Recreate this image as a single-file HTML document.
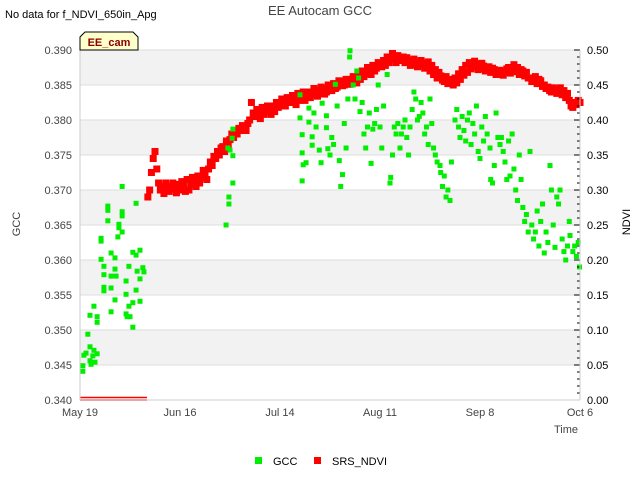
<!DOCTYPE html>
<html><head><meta charset="utf-8"><style>
body{margin:0;background:#fff;}
svg{display:block;font-family:"Liberation Sans","DejaVu Sans",sans-serif;}
</style></head><body>
<svg id="chart" width="640" height="480" viewBox="0 0 640 480">
<text x="5" y="18" font-size="11" fill="#000">No data for f_NDVI_650in_Apg</text>
<text x="320" y="15" font-size="13" fill="#444" text-anchor="middle">EE Autocam GCC</text>
<g id="bands"></g>
<g id="grid"></g>
<g id="marks"></g>
<g id="axes"></g>
<g>
<path d="M80,50 L80,37 L85,32 L133,32 L138,37 L138,50 Z" fill="#ffffcc" stroke="#000" stroke-width="1"/>
<text x="109" y="46" font-size="11" font-weight="bold" fill="#8b0000" text-anchor="middle">EE_cam</text>
</g>
<text transform="translate(20,224) rotate(-90)" font-size="11" fill="#444" text-anchor="middle">GCC</text>
<text transform="translate(630,222) rotate(-90)" font-size="11" fill="#000" text-anchor="middle">NDVI</text>
<text x="578" y="433" font-size="11" fill="#444" text-anchor="end">Time</text>
<g>
<rect x="255" y="457" width="7" height="7" fill="#00ee00"/>
<text x="273" y="465" font-size="11" fill="#000">GCC</text>
<rect x="314" y="457" width="7" height="7" fill="#ff0000"/>
<text x="332" y="465" font-size="11" fill="#000">SRS_NDVI</text>
</g>
</svg>
<script>
const gccTicks=[0.340,0.345,0.350,0.355,0.360,0.365,0.370,0.375,0.380,0.385,0.390];
const ndviTicks=[0.00,0.05,0.10,0.15,0.20,0.25,0.30,0.35,0.40,0.45,0.50];
const xTickLabels=["May 19","Jun 16","Jul 14","Aug 11","Sep 8","Oct 6"];
const xTickDays=[0,28,56,84,112,140];
const gccDays=[0.8,0.8,1.1,1.7,2.2,2.8,2.8,3.1,3.6,3.9,4.2,3.9,2.8,4.8,4.8,4.8,5.9,5.9,5.9,6.7,6.7,6.7,6.7,7.8,7.8,7.8,8.7,8.7,8.7,8.7,9.8,9.8,10.1,9.8,10.6,10.9,10.9,11.8,11.8,11.8,12.9,12.9,12.9,13.2,13.7,13.7,14,14.8,14.8,14.8,15.7,15.7,16,16.8,16.8,16.8,17.6,17.9,15.7,11.8,
40.9,41.7,41.7,42.8,42.8,42,42.6,42.8,41.4,
61.6,61.6,62.2,62.2,62.5,62.2,63.3,64.1,64.1,65,65,65.5,66.1,67,67.5,67.8,69,69,69.4,70,70.5,71,71.5,72,72.6,73,73.5,74,74.5,75,75.5,75.6,76.5,77,77.5,78,78.4,79,79.5,80,80.5,81,81.5,82,82.5,83,83.5,84,84.5,85,86,86.8,87,87.5,88,88.5,89,89.6,90,90.5,91,91.5,92,92.4,93,93.5,94,94.5,95,95.5,96,96.5,97,97.5,98,98.5,99,99.5,100,100.8,101,101.5,102,102.5,103,103.6,104,105,105.5,106,106.4,107,107.5,108,108.5,109,109.5,110,110.5,111,111.5,112,112.5,113,113.5,114,114.8,115,115.5,116,116.5,117,117.6,118,118.5,119,119.5,120,120.4,121,121.5,122,122.5,123,123.5,124,124.5,125,125.5,126,126.5,127,127.5,128,128.5,129,129.5,130,130.5,131,131.6,132,132.5,133,133.5,134,134.4,135,135.5,136,136.5,137,137.2,138,138.5,139,139.5,140];
const gccVals=[0.3441,0.3449,0.3464,0.3467,0.3494,0.3476,0.3456,0.3451,0.3463,0.3471,0.3454,0.3534,0.3521,0.3519,0.3511,0.3466,0.3601,0.3627,0.3631,0.3591,0.3579,0.3561,0.3556,0.3656,0.3677,0.3671,0.3610,0.3577,0.3560,0.3526,0.3603,0.3587,0.3577,0.3543,0.3633,0.3651,0.3646,0.3669,0.3663,0.3640,0.3570,0.3551,0.3523,0.3519,0.3591,0.3534,0.3519,0.3611,0.3539,0.3504,0.3607,0.3557,0.3584,0.3614,0.3573,0.3541,0.3589,0.3583,0.3681,0.3705,
0.3650,0.3690,0.3680,0.3710,0.3749,0.3757,0.3774,0.3787,0.3760,
0.3836,0.3803,0.3779,0.3753,0.3736,0.3713,0.3739,0.3817,0.3797,0.3776,0.3764,0.3810,0.3790,0.3757,0.3739,0.3824,0.3806,0.3789,0.3759,0.3750,0.3775,0.3765,0.3851,0.3820,0.3742,0.3705,0.3722,0.3795,0.3760,0.3830,0.3890,0.3899,0.3850,0.3830,0.3870,0.3860,0.3812,0.3825,0.3780,0.3760,0.3790,0.3810,0.3738,0.3787,0.3795,0.3815,0.3850,0.3790,0.3760,0.3820,0.3865,0.3710,0.3718,0.3750,0.3790,0.3780,0.3795,0.3760,0.3780,0.3790,0.3800,0.3775,0.3750,0.3790,0.3815,0.3840,0.3830,0.3800,0.3805,0.3825,0.3810,0.3780,0.3790,0.3765,0.3830,0.3795,0.3760,0.3750,0.3740,0.3735,0.3725,0.3705,0.3720,0.3690,0.3700,0.3685,0.3740,0.3800,0.3815,0.3790,0.3775,0.3805,0.3785,0.3770,0.3800,0.3810,0.3765,0.3795,0.3780,0.3820,0.3755,0.3745,0.3790,0.3770,0.3805,0.3780,0.3760,0.3715,0.3710,0.3735,0.3810,0.3775,0.3765,0.3775,0.3755,0.3740,0.3715,0.3770,0.3720,0.3780,0.3730,0.3700,0.3685,0.3750,0.3715,0.3675,0.3655,0.3665,0.3640,0.3755,0.3650,0.3630,0.3640,0.3670,0.3620,0.3655,0.3680,0.3610,0.3640,0.3625,0.3735,0.3700,0.3650,0.3618,0.3690,0.3680,0.3700,0.3630,0.3612,0.3600,0.3620,0.3655,0.3635,0.3612,0.3620,0.3605,0.3625,0.3590];
const ndviStart=19, ndviStep=0.5;
const ndviVals=[.290,.300,.325,.345,.355,.330,.310,.300,.305,.295,.310,.300,.298,.305,.310,.302,.296,.308,.300,.312,.305,.298,.315,.300,.308,.318,.312,.305,.320,.310,.318,.328,.325,.315,.330,.340,.335,.348,.345,.355,.350,.360,.362,.355,.370,.365,.372,.380,.375,.385,.380,.388,.385,.392,.390,.385,.395,.400,.425,.410,.405,.415,.410,.402,.418,.408,.412,.420,.415,.408,.420,.412,.425,.418,.420,.430,.428,.420,.432,.425,.425,.435,.430,.422,.438,.428,.432,.440,.428,.436,.440,.432,.436,.445,.442,.434,.438,.447,.445,.437,.440,.450,.448,.442,.452,.445,.447,.456,.455,.449,.450,.458,.458,.451,.455,.462,.460,.453,.465,.458,.470,.462,.466,.475,.472,.465,.478,.470,.474,.482,.480,.476,.485,.478,.490,.482,.486,.495,.488,.482,.492,.485,.486,.490,.482,.489,.485,.478,.480,.487,.483,.476,.478,.485,.481,.474,.476,.483,.470,.478,.465,.472,.460,.468,.463,.457,.455,.462,.452,.458,.455,.450,.460,.453,.466,.458,.472,.464,.478,.468,.482,.473,.476,.484,.480,.472,.474,.481,.477,.470,.470,.476,.468,.474,.472,.465,.466,.471,.470,.464,.468,.473,.475,.467,.472,.479,.469,.475,.465,.472,.470,.463,.468,.460,.460,.455,.455,.462,.452,.458,.456,.448,.450,.445,.447,.442,.440,.446,.444,.438,.440,.446,.436,.442,.432,.438,.428,.420,.418,.425,.422,.428,.425];

const L=80,R=580,T=50,B=400;
const xS=d=>L+(d/140)*(R-L);
const yG=v=>B-(v-0.340)/0.050*(B-T);
const yN=v=>B-(v/0.5)*(B-T);
const NS="http://www.w3.org/2000/svg";
function mk(tag,parent){const e=document.createElementNS(NS,tag);document.getElementById(parent).appendChild(e);return e;}

for(let i=0;i<gccTicks.length-1;i++){
  const r=mk('rect','bands');
  
  
  const y1=yG(gccTicks[i+1]),y0=yG(gccTicks[i]);
  r.setAttribute('x',L);r.setAttribute('y',y1);r.setAttribute('width',R-L);r.setAttribute('height',y0-y1);
  r.setAttribute('fill',(i%2===1)?'#f2f2f2':'#ffffff');
}
gccTicks.forEach((v,i)=>{
  const ln=mk('line','grid');
  
  
  ln.setAttribute('x1',L);ln.setAttribute('x2',R);ln.setAttribute('y1',yG(v));ln.setAttribute('y2',yG(v));
  ln.setAttribute('stroke','#dddddd');ln.setAttribute('stroke-width','1');
  const t=mk('text','axes');
  
  
  t.setAttribute('x',72);t.setAttribute('y',yG(v)+4);t.setAttribute('font-size','11');t.setAttribute('fill','#444');t.setAttribute('text-anchor','end');
  t.textContent=v.toFixed(3);
});
ndviTicks.forEach(v=>{
  const t=mk('text','axes');
  
  
  t.setAttribute('x',587);t.setAttribute('y',yN(v)+4);t.setAttribute('font-size','11');t.setAttribute('fill','#000');
  t.textContent=v.toFixed(2);
});
for(let k=0;k<=50;k++){
  const y=yN(k*0.01);
  const tk=mk('line','axes');
  
  
  tk.setAttribute('x1',k%5===0?574:577);tk.setAttribute('x2',580);tk.setAttribute('y1',y);tk.setAttribute('y2',y);
  tk.setAttribute('stroke','#000');tk.setAttribute('stroke-width','1');
}
xTickDays.forEach((d,i)=>{
  const t=mk('text','axes');
  
  
  t.setAttribute('x',xS(d));t.setAttribute('y',416);t.setAttribute('font-size','11');t.setAttribute('fill','#444');t.setAttribute('text-anchor','middle');
  t.textContent=xTickLabels[i];
});
[[L,T,L,B],[R,T,R,B],[L,B,R,B]].forEach(c=>{
  const a=mk('line','axes');
  
  
  a.setAttribute('x1',c[0]);a.setAttribute('y1',c[1]);a.setAttribute('x2',c[2]);a.setAttribute('y2',c[3]);
  a.setAttribute('stroke','#cccccc');
});
[397.5,400].forEach(y=>{
  const ln=mk('line','marks');
  
  
  ln.setAttribute('x1',L);ln.setAttribute('x2',147);ln.setAttribute('y1',y);ln.setAttribute('y2',y);
  ln.setAttribute('stroke','#ff0000');ln.setAttribute('stroke-width','1.6');
});
ndviVals.forEach((v,i)=>{
  const d=ndviStart+i*ndviStep;
  const r=mk('rect','marks');
  
  
  r.setAttribute('x',xS(d)-3.5);r.setAttribute('y',yN(v)-3.5);r.setAttribute('width',7);r.setAttribute('height',7);r.setAttribute('fill','#ff0000');
});
gccVals.forEach((v,i)=>{
  const r=mk('rect','marks');
  
  
  r.setAttribute('x',Math.min(xS(gccDays[i])-2.5,577));r.setAttribute('y',yG(v)-2.5);r.setAttribute('width',5);r.setAttribute('height',5);r.setAttribute('fill','#00ee00');
});
</script>
</body></html>
